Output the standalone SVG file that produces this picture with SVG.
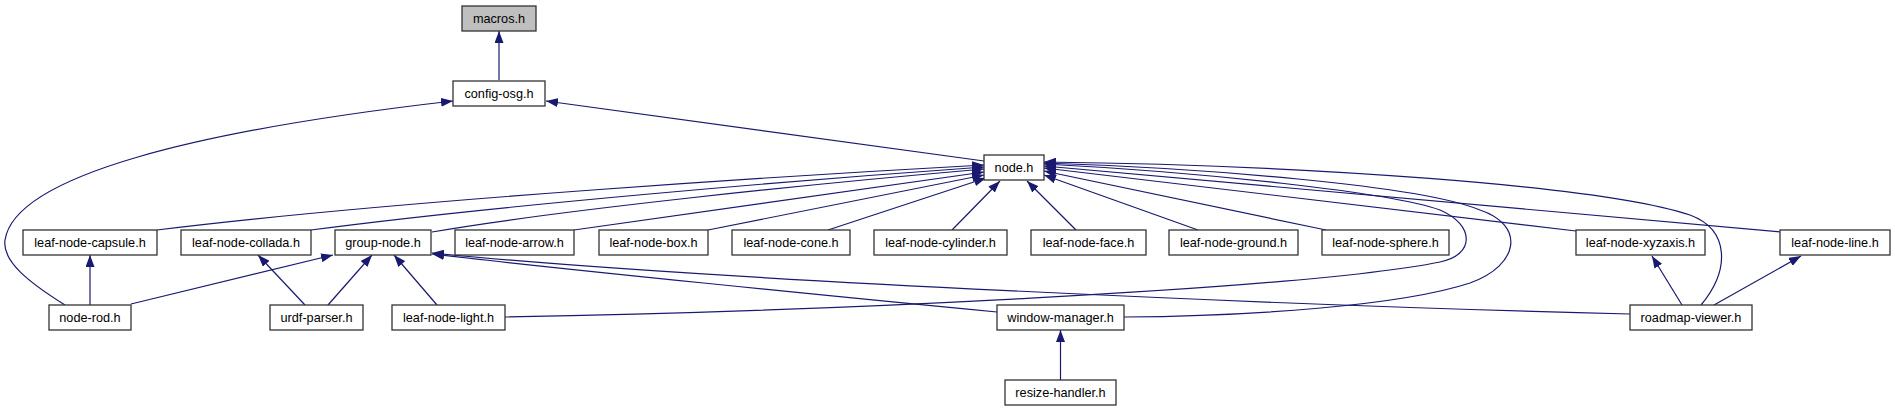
<svg xmlns="http://www.w3.org/2000/svg" width="1895" height="411" viewBox="0 0 1895 411">
<style>
.n rect{fill:#ffffff;stroke:#333333;stroke-width:1.3}
.n.root rect{fill:#bfbfbf}
.n text{font-family:"Liberation Sans",Arial,Helvetica,sans-serif;font-size:12.7px;fill:#000;text-anchor:middle}
.e path{fill:none;stroke:#191970;stroke-width:1.2;marker-end:url(#ah)}
</style>
<defs>
<marker id="ah" markerUnits="userSpaceOnUse" markerWidth="12" markerHeight="9" refX="12" refY="4.5" orient="auto">
<path d="M0,0 L12,4.5 L0,9 Z" fill="#191970"/>
</marker>
</defs>
<rect width="1895" height="411" fill="#ffffff"/>
<g id="connectors" class="e">
<path d="M499,80 L499,31"/>
<path d="M984,161 L546,101"/>
<path d="M65,305 C30,283 1.7,261.5 5,240 C15,175 200,130 453,101"/>
<path d="M157,230 C400,200 800,175 984,165"/>
<path d="M311,230 C500,205 800,180 984,167"/>
<path d="M432,232 C560,210 800,185 984,169"/>
<path d="M574,230 L984,172"/>
<path d="M708,230 L984,175"/>
<path d="M828,230 L986,178"/>
<path d="M952,230 L1000,181"/>
<path d="M1076,230 L1027,181"/>
<path d="M1198,230 L1044,175"/>
<path d="M1326,230 L1044,171"/>
<path d="M1576,231 L1044,168"/>
<path d="M1781,232 L1044,166"/>
<path d="M505,317 C800,312 1300,290 1440,262 C1475,255 1475,225 1440,210 C1390,192 1200,172 1044,164"/>
<path d="M1124,317 C1250,316 1400,306 1470,283 C1520,265 1525,225 1480,210 C1420,185 1200,168 1044,163"/>
<path d="M1701,305 C1730,270 1730,230 1690,215 C1600,185 1300,165 1044,162"/>
<path d="M90,305 L90,255"/>
<path d="M131,304 L333,255"/>
<path d="M328,305 L372,255"/>
<path d="M437,305 L394,255"/>
<path d="M305,305 L258,255"/>
<path d="M997,312 C850,298 550,268 432,254"/>
<path d="M1630,314 C1300,306 700,280 432,253"/>
<path d="M1682,305 L1652,256"/>
<path d="M1714,305 L1801,256"/>
<path d="M1060.5,380 L1060.5,330"/>
</g>
<g id="macros" class="n root"><rect x="462" y="6" width="74" height="25"/><text x="499" y="23">macros.h</text></g>
<g id="config-osg" class="n"><rect x="453" y="81" width="92" height="25"/><text x="499" y="98">config-osg.h</text></g>
<g id="node" class="n"><rect x="984" y="155" width="60" height="25"/><text x="1014" y="172">node.h</text></g>
<g id="leaf-node-capsule" class="n"><rect x="23" y="230" width="134" height="25"/><text x="90" y="247">leaf-node-capsule.h</text></g>
<g id="leaf-node-collada" class="n"><rect x="181" y="230" width="130" height="25"/><text x="246" y="247">leaf-node-collada.h</text></g>
<g id="group-node" class="n"><rect x="335" y="230" width="96" height="25"/><text x="383" y="247">group-node.h</text></g>
<g id="leaf-node-arrow" class="n"><rect x="455" y="230" width="119" height="25"/><text x="514.5" y="247">leaf-node-arrow.h</text></g>
<g id="leaf-node-box" class="n"><rect x="599" y="230" width="109" height="25"/><text x="653.5" y="247">leaf-node-box.h</text></g>
<g id="leaf-node-cone" class="n"><rect x="732" y="230" width="118" height="25"/><text x="791" y="247">leaf-node-cone.h</text></g>
<g id="leaf-node-cylinder" class="n"><rect x="874" y="230" width="133" height="25"/><text x="940.5" y="247">leaf-node-cylinder.h</text></g>
<g id="leaf-node-face" class="n"><rect x="1031" y="230" width="115" height="25"/><text x="1088.5" y="247">leaf-node-face.h</text></g>
<g id="leaf-node-ground" class="n"><rect x="1169" y="230" width="129" height="25"/><text x="1233.5" y="247">leaf-node-ground.h</text></g>
<g id="leaf-node-sphere" class="n"><rect x="1322" y="230" width="127" height="25"/><text x="1385.5" y="247">leaf-node-sphere.h</text></g>
<g id="leaf-node-xyzaxis" class="n"><rect x="1576" y="230" width="129" height="25"/><text x="1640.5" y="247">leaf-node-xyzaxis.h</text></g>
<g id="leaf-node-line" class="n"><rect x="1780" y="230" width="110" height="25"/><text x="1835" y="247">leaf-node-line.h</text></g>
<g id="node-rod" class="n"><rect x="49" y="305" width="82" height="25"/><text x="90" y="322">node-rod.h</text></g>
<g id="urdf-parser" class="n"><rect x="270" y="305" width="93" height="25"/><text x="316.5" y="322">urdf-parser.h</text></g>
<g id="leaf-node-light" class="n"><rect x="392" y="305" width="113" height="25"/><text x="448.5" y="322">leaf-node-light.h</text></g>
<g id="window-manager" class="n"><rect x="997" y="305" width="127" height="25"/><text x="1060.5" y="322">window-manager.h</text></g>
<g id="roadmap-viewer" class="n"><rect x="1630" y="305" width="122" height="25"/><text x="1691" y="322">roadmap-viewer.h</text></g>
<g id="resize-handler" class="n"><rect x="1005" y="380" width="111" height="25"/><text x="1060.5" y="397">resize-handler.h</text></g>
</svg>
